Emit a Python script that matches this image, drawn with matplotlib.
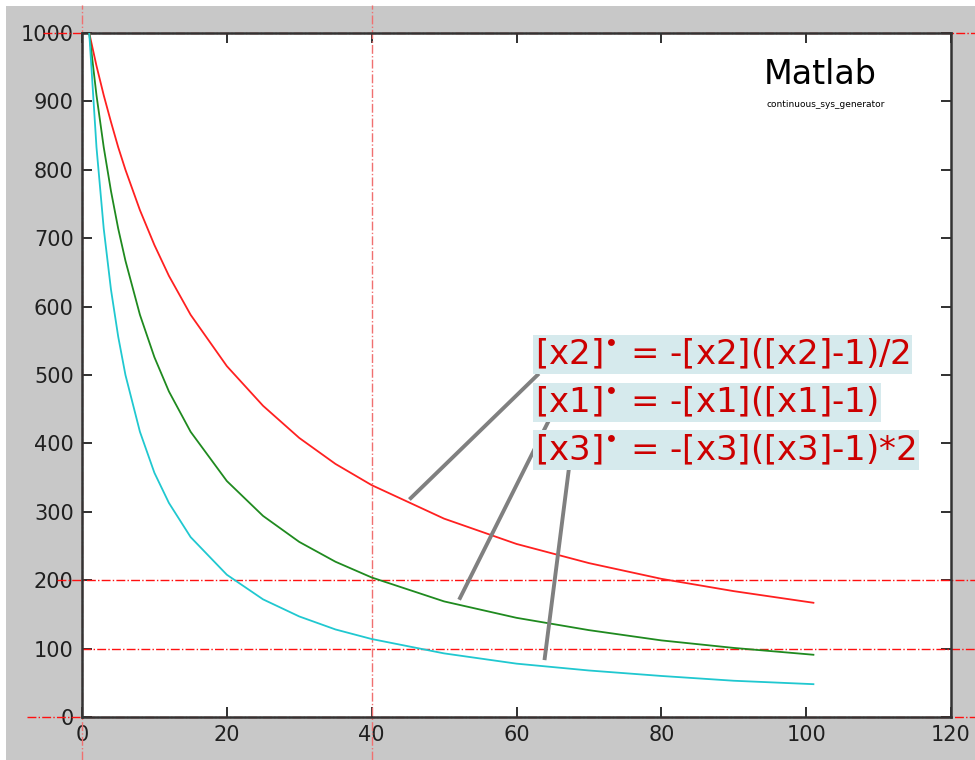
import matplotlib.pyplot as plt
import matplotlib.transforms as mtransforms
from matplotlib.patches import Rectangle

# values
t = [1, 2, 3, 4, 5, 6, 8, 10, 12, 15, 20, 25, 30, 35, 40, 50, 60, 70, 80, 90, 101]
x1 = [1000, 909, 833, 769, 714, 667, 588, 526, 476, 417, 345, 294, 256, 227, 204,
      169, 145, 127, 112, 101, 91]
x2 = [1000, 952, 909, 870, 833, 800, 741, 690, 645, 588, 513, 455, 408, 370, 339,
      290, 253, 225, 202, 184, 167]
x3 = [1000, 833, 714, 625, 556, 500, 417, 357, 313, 263, 208, 172, 147, 128, 114,
      93, 78, 68, 60, 53, 48]

xticks = [0, 20, 40, 60, 80, 100, 120]
yticks = list(range(0, 1001, 100))
grid_x = [0, 40]
grid_y = [0, 100, 200, 1000]

labels = ["[x2]$^{\\bullet}$ = -[x2]([x2]-1)/2",
          "[x1]$^{\\bullet}$ = -[x1]([x1]-1)",
          "[x3]$^{\\bullet}$ = -[x3]([x3]-1)*2"]
# (point on curve, point under the label box)
leaders = [((45.4, 320), (62.9, 500)),
           ((52.2, 174), (64.3, 430)),
           ((63.9, 86), (67.2, 360))]

fig = plt.figure(figsize=(9.75, 7.6), dpi=100, facecolor="white")
fig.patches.append(Rectangle((6 / 975, 0), 1, 1 - 6 / 760, transform=fig.transFigure,
                             facecolor="#c8c8c8", edgecolor="none", zorder=-10))
ax = fig.add_axes([82 / 975, 1 - 717 / 760, (951 - 82) / 975, (717 - 33) / 760])
ax.set_facecolor("white")

ax.plot(t, x2, color="#ff2020", lw=1.3, zorder=3)
ax.plot(t, x1, color="#1f8a1f", lw=1.3, zorder=3)
ax.plot(t, x3, color="#20c8d0", lw=1.3, zorder=3)

ax.set_xlim(0, 120)
ax.set_ylim(0, 1000)
ax.set_xticks(xticks)
ax.set_yticks(yticks)
ax.tick_params(direction="in", length=7, width=1.3, top=True, right=True,
               labelsize=15, colors="#202020", pad=6)
for sp in ax.spines.values():
    sp.set_color("#333333")
    sp.set_linewidth(1.8)

# dash-dot grid lines, running past the axes like in the original
tr_y = mtransforms.blended_transform_factory(ax.transAxes, ax.transData)
tr_x = mtransforms.blended_transform_factory(ax.transData, fig.transFigure)
left_ext = {0: -0.063, 100: 0.0, 200: -0.029, 1000: -0.045}
for gy in grid_y:
    ax.plot([left_ext[gy], 1.03], [gy, gy], transform=tr_y, color="#ff1010",
            lw=1.0, ls="-.", clip_on=False, zorder=2)
for gx in grid_x:
    ax.plot([gx, gx], [0, 1 - 5 / 760], transform=tr_x, color="#f07070",
            lw=1.0, ls="-.", clip_on=False, zorder=2)

# leader lines and formula labels
for (p0, p1) in leaders:
    ax.plot([p0[0], p1[0]], [p0[1], p1[1]], color="#808080", lw=2.8, zorder=4)

label_y = [530, 460, 390]
for lab, ly in zip(labels, label_y):
    ax.text(62.6, ly, lab, fontsize=24.5, color="#cc0000", ha="left", va="center",
            zorder=5, bbox=dict(boxstyle="square,pad=0.08", facecolor="#d6eaed",
                                edgecolor="none"))

ax.text(0.85, 0.939, "Matlab", transform=ax.transAxes, fontsize=24,
        ha="center", va="center", color="black")
ax.text(0.856, 0.895, "continuous_sys_generator", transform=ax.transAxes,
        fontsize=6.5, ha="center", va="center", color="black")

fig.savefig("out.png", dpi=100, facecolor=fig.get_facecolor())
